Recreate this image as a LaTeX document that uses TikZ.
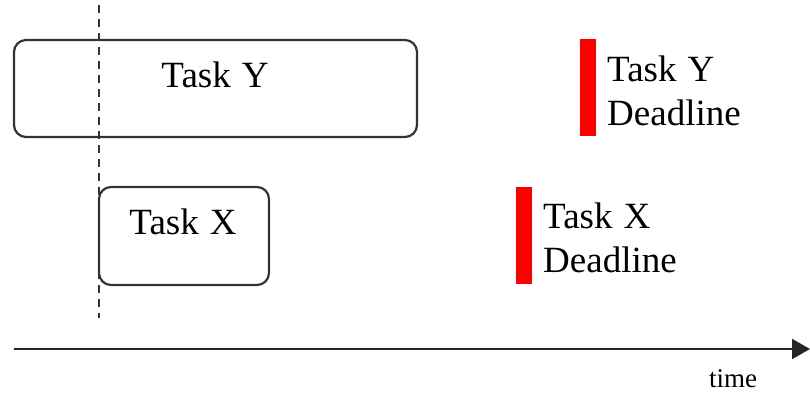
\documentclass[tikz,border=0pt]{standalone}
\usepackage{fontspec}
\setmainfont{Liberation Serif}
\usetikzlibrary{arrows.meta}
\newcommand\tsp{\hspace{11pt}}
\begin{document}
\begin{tikzpicture}[x=1pt,y=-1pt,
  taskbox/.style={draw=black!80,line width=2.2pt,rounded corners=12pt,inner sep=0pt},
  redbar/.style={fill=red,draw=none,inner sep=0pt,minimum width=16pt,minimum height=97pt},
  lbl/.style={inner sep=0pt,font=\fontsize{37}{44}\selectfont},
  dl/.style={lbl,align=left,anchor=base west}]
\useasboundingbox (0,0) rectangle (810,393);
% dashed marker
\coordinate (dtop) at (99,5);
\coordinate (dbot) at (99,318);
\draw[black!80,line width=2.2pt,dash pattern=on 8pt off 6pt] (dtop) -- (dbot);
% task boxes
\node[taskbox,minimum width=403pt,minimum height=97pt] (ybox) at (215.5,88.5) {};
\node[lbl] (ylbl) at (215,75) {Task\tsp Y};
\node[taskbox,minimum width=170pt,minimum height=98pt] (xbox) at (184,236) {};
\node[lbl] (xlbl) at (183,222) {Task\tsp X};
% deadlines
\node[redbar] (ybar) at (588,87.5) {};
\node[dl] (ydl) at (607,125) {Task\tsp Y\\Deadline};
\node[redbar] (xbar) at (523.5,235) {};
\node[dl] (xdl) at (543,272) {Task\tsp X\\Deadline};
% time axis
\coordinate (a0) at (14,349);
\coordinate (a1) at (810,349);
\draw[black!85,line width=2.2pt,-{Triangle[length=18pt,width=20pt]}] (a0) -- (a1);
\node[inner sep=0pt,font=\fontsize{27}{30}\selectfont,anchor=base] (tlbl) at (733,387) {time};
\end{tikzpicture}
\end{document}
